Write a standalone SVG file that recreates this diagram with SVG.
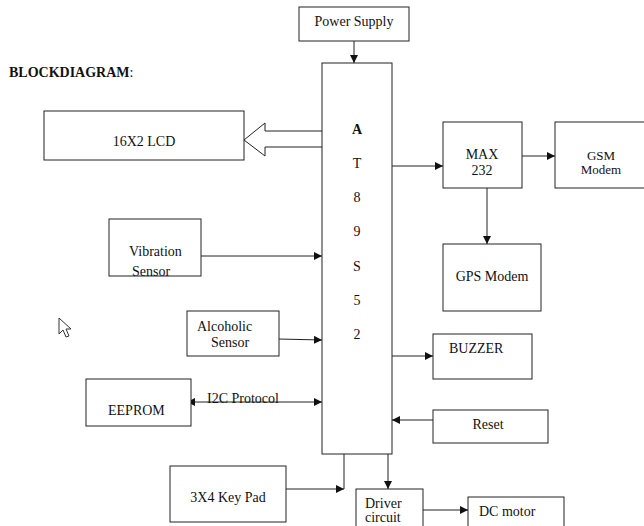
<svg xmlns="http://www.w3.org/2000/svg" width="644" height="526" viewBox="0 0 644 526">
<style>
.box{fill:#fff;stroke:#222;stroke-width:1}
.ln{fill:none;stroke:#222;stroke-width:1}
text{font-family:"Liberation Serif","Times New Roman",serif;font-size:14px;fill:#111}
.c{text-anchor:middle}
</style>
<defs>
<marker id="ah" viewBox="0 0 10 10" refX="10" refY="5" markerWidth="8" markerHeight="8" markerUnits="userSpaceOnUse" orient="auto-start-reverse">
<path d="M0,0 L10,5 L0,10 z" fill="#111"/>
</marker>
<clipPath id="vclip"><rect x="109" y="219" width="92" height="57"/></clipPath>
</defs>
<rect width="644" height="526" fill="#fff"/>
<text x="9" y="77" style="font-weight:bold">BLOCKDIAGRAM<tspan style="font-weight:normal">:</tspan></text>

<g id="connectors">
<path class="ln" d="M354,41 V63" marker-end="url(#ah)"/>
<path class="ln" d="M322,131 H265 V123 L244,140 L265,156 V147 H322"/>
<path class="ln" d="M392,166 H443" marker-end="url(#ah)"/>
<path class="ln" d="M522,156 H555" marker-end="url(#ah)"/>
<path class="ln" d="M487,188 V244" marker-end="url(#ah)"/>
<path class="ln" d="M201,256 H322" marker-end="url(#ah)"/>
<path class="ln" d="M278,339 L322,340" marker-end="url(#ah)"/>
<path class="ln" d="M187,402 H322" marker-start="url(#ah)" marker-end="url(#ah)"/>
<path class="ln" d="M392,356 H433" marker-end="url(#ah)"/>
<path class="ln" d="M433,420 H392" marker-end="url(#ah)"/>
<path class="ln" d="M344,454 V489"/>
<path class="ln" d="M286,489 H344" marker-end="url(#ah)"/>
<path class="ln" d="M388,454 V489" marker-end="url(#ah)"/>
<path class="ln" d="M423,510 H468" marker-end="url(#ah)"/>
</g>

<g id="power"><rect class="box" x="299" y="7" width="110" height="34"/><text class="c" x="354" y="26">Power Supply</text></g>
<g id="mcu"><rect class="box" x="322" y="63" width="70" height="391"/>
<text class="c" x="357" y="134" style="font-weight:bold">A</text>
<text class="c" x="357" y="168">T</text>
<text class="c" x="357" y="202">8</text>
<text class="c" x="357" y="236">9</text>
<text class="c" x="357" y="271">S</text>
<text class="c" x="357" y="305">5</text>
<text class="c" x="357" y="339">2</text>
</g>
<g id="lcd"><rect class="box" x="44" y="111" width="200" height="49"/><text class="c" x="144" y="146">16X2 LCD</text></g>
<g id="max232"><rect class="box" x="443" y="122" width="79" height="66"/><text class="c" x="482" y="159">MAX</text><text class="c" x="482" y="175">232</text></g>
<g id="gsm"><rect class="box" x="555" y="122" width="95" height="66"/><text class="c" x="601" y="160" style="font-size:13px">GSM</text><text class="c" x="601" y="174" style="font-size:13px">Modem</text></g>
<g id="gps"><rect class="box" x="443" y="244" width="98" height="67"/><text class="c" x="492" y="281">GPS Modem</text></g>
<g id="vibration"><rect class="box" x="109" y="219" width="92" height="57"/><g clip-path="url(#vclip)"><text x="129" y="256">Vibration</text><text x="132" y="276">Sensor</text></g></g>
<g id="alcohol"><rect class="box" x="187" y="311" width="92" height="45"/><text x="197" y="331">Alcoholic</text><text x="211" y="347">Sensor</text></g>
<g id="eeprom"><rect class="box" x="86" y="379" width="105" height="47"/><text x="108" y="415">EEPROM</text></g>
<text x="207" y="403">I2C Protocol</text>
<g id="buzzer"><rect class="box" x="433" y="334" width="99" height="45"/><text x="449" y="353">BUZZER</text></g>
<g id="reset"><rect class="box" x="433" y="410" width="115" height="33"/><text class="c" x="488" y="429">Reset</text></g>
<g id="keypad"><rect class="box" x="170" y="466" width="116" height="56"/><text class="c" x="228" y="502">3X4 Key Pad</text></g>
<g id="driver"><rect class="box" x="356" y="489" width="67" height="45"/><text x="365" y="508">Driver</text><text x="365" y="522">circuit</text></g>
<g id="dcmotor"><rect class="box" x="468" y="497" width="96" height="40"/><text x="479" y="516">DC motor</text></g>

<path d="M59,318 V334 L63,330 L66,337 L69,336 L66,329 L71,329 Z" fill="#fff" stroke="#333" stroke-width="1"/>
</svg>
